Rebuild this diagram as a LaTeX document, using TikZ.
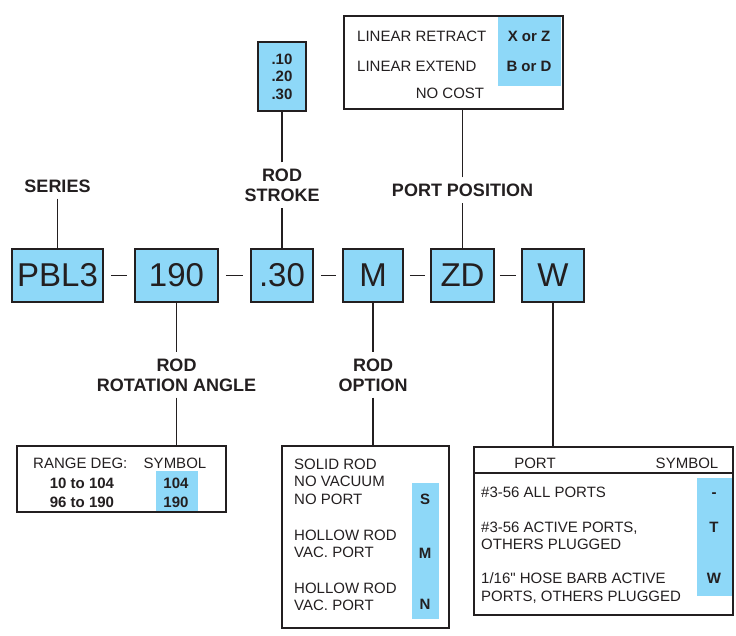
\documentclass[tikz,border=0pt]{standalone}
\usepackage{fontspec}
\setmainfont{Liberation Sans}
\newfontfamily\rawquote{Liberation Sans}[Ligatures=TeXOff]
\usepackage{tikz}
\usetikzlibrary{positioning}
\usepackage{xcolor}
\definecolor{codeblue}{RGB}{142,216,248}
\definecolor{inkgrey}{RGB}{35,31,32}

\begin{document}
\begin{tikzpicture}[x=1pt, y=-1pt,
    codebox/.style={rectangle, draw=inkgrey, line width=1.5pt, fill=codeblue,
        minimum height=53pt, inner sep=0pt, text=inkgrey,
        font=\fontsize{33}{36}\selectfont},
    heading/.style={align=center, text=inkgrey, inner xsep=0pt, inner ysep=6pt,
        font=\fontsize{18}{20}\selectfont\bfseries},
    tablebox/.style={rectangle, draw=inkgrey, line width=1.4pt, inner sep=0pt},
    hilite/.style={rectangle, fill=codeblue, inner sep=0pt},
    cell/.style={align=left, text=inkgrey, inner sep=0pt,
        font=\fontsize{15}{17.5}\selectfont},
    sym/.style={text=inkgrey, inner sep=0pt, anchor=base,
        font=\fontsize{15}{17.5}\selectfont\bfseries},
    link/.style={draw=inkgrey, line width=1.3pt}
]
    \useasboundingbox (0,0) rectangle (736,635);

    \node[codebox, minimum width=91pt] (series)   at (57.5,275.5)  {PBL3};
    \node[codebox, minimum width=83pt] (angle)    at (176.5,275.5) {190};
    \node[codebox, minimum width=62pt] (stroke)   at (282,275.5)   {.30};
    \node[codebox, minimum width=60pt] (option)   at (373,275.5)   {M};
    \node[codebox, minimum width=63pt] (position) at (462.5,275.5) {ZD};
    \node[codebox, minimum width=62pt] (port)     at (553,275.5)   {W};

    \draw[link] ([xshift=7pt]series.east) -- ([xshift=-7pt]angle.west);
    \draw[link] ([xshift=7pt]angle.east) -- ([xshift=-7pt]stroke.west);
    \draw[link] ([xshift=7pt]stroke.east) -- ([xshift=-6pt]option.west);
    \draw[link] ([xshift=6pt]option.east) -- ([xshift=-5pt]position.west);
    \draw[link] ([xshift=5pt]position.east) -- ([xshift=-5pt]port.west);

    \node[heading] (serieshead)   at (57.5,186)  {SERIES};
    \node[heading] (strokehead)   at (282,185)   {ROD\\STROKE};
    \node[heading] (positionhead) at (462.5,190) {PORT POSITION};
    \node[heading] (anglehead)    at (176.5,375) {ROD\\ROTATION ANGLE};
    \node[heading] (optionhead)   at (373,375)   {ROD\\OPTION};

    % stroke choices
    \node[tablebox, fill=codeblue, minimum width=48pt, minimum height=69pt,
        align=center, text=inkgrey, font=\fontsize{15}{17.5}\selectfont\bfseries]
        (strokelist) at (282,76.5) {.10\\.20\\.30};

    % port position table
    \node[hilite, minimum width=63pt, minimum height=69pt] (posblue) at (529.5,51.5) {};
    \node[tablebox, minimum width=219pt, minimum height=93pt] (positiontable) at (453.5,62.5) {};
    \node[cell, anchor=base west] (retract) at (357,41.4) {LINEAR RETRACT};
    \node[cell, anchor=base west] (extend)  at (357,71.4) {LINEAR EXTEND};
    \node[cell, anchor=base] (nocost) at (450,98.4) {NO COST};
    \node[sym] (xz) at (529,41.4) {X or Z};
    \node[sym] (bd) at (529,71.4) {B or D};

    % rotation angle table
    \node[hilite, minimum width=42pt, minimum height=41pt] (angblue) at (177,491.5) {};
    \node[tablebox, minimum width=209pt, minimum height=66pt] (angletable) at (121.5,479) {};
    \node[cell, anchor=base west] (rangedeg) at (33,468.4) {RANGE DEG:};
    \node[cell, anchor=base] (angsymbol) at (175,468.4) {SYMBOL};
    \node[sym] (rangeA) at (82,488.4) {10 to 104};
    \node[sym] (rangeB) at (82,507.4) {96 to 190};
    \node[sym] (symA) at (176,488.4) {104};
    \node[sym] (symB) at (176,507.4) {190};

    % rod option table
    \node[hilite, minimum width=27pt, minimum height=136pt] (optblue) at (425.5,551) {};
    \node[tablebox, minimum width=167pt, minimum height=182pt] (optiontable) at (365.5,537) {};
    \node[cell, anchor=north west] (solid)   at (294,458.6) {SOLID ROD\\NO VACUUM\\NO PORT};
    \node[cell, anchor=north west] (hollowA) at (294,529.6) {HOLLOW ROD\\VAC. PORT};
    \node[cell, anchor=north west] (hollowB) at (294,582.6) {HOLLOW ROD\\VAC. PORT};
    \node[sym] (symS) at (425,504.4) {S};
    \node[sym] (symM) at (425,558.4) {M};
    \node[sym] (symN) at (425,609.4) {N};

    % port table
    \node[hilite, minimum width=35pt, minimum height=118pt] (portblue) at (714.5,537) {};
    \node[tablebox, minimum width=259pt, minimum height=168pt] (porttable) at (603.5,531) {};
    \draw[link] (porttable.west |- 0,473) -- (porttable.east |- 0,473);
    \node[cell, anchor=base] (porthdr) at (535,468.4) {PORT};
    \node[cell, anchor=base] (portsym) at (687,468.4) {SYMBOL};
    \node[cell, anchor=north west] (allports)  at (481,486.6) {\#3-56 ALL PORTS};
    \node[cell, anchor=north west] (activeports) at (481,521.6) {\#3-56 ACTIVE PORTS,\\OTHERS PLUGGED};
    \node[cell, anchor=north west] (hosebarb) at (481,572.6) {1/16{\rawquote"} HOSE BARB ACTIVE\\PORTS, OTHERS PLUGGED};
    \node[sym] (symDash) at (714,497.4) {-};
    \node[sym] (symT) at (714,532.4) {T};
    \node[sym] (symW) at (714,583.4) {W};

    \draw[link] (serieshead) -- (series);
    \draw[link] (stroke) -- (strokehead);
    \draw[link] (strokehead) -- (strokelist);
    \draw[link] (position) -- (positionhead);
    \draw[link] (positionhead) -- (positionhead |- positiontable.south);
    \draw[link] (angle) -- (anglehead);
    \draw[link] (anglehead) -- (anglehead |- angletable.north);
    \draw[link] (option) -- (optionhead);
    \draw[link] (optionhead) -- (optionhead |- optiontable.north);
    \draw[link] (port) -- (port |- porttable.north);
\end{tikzpicture}
\end{document}
